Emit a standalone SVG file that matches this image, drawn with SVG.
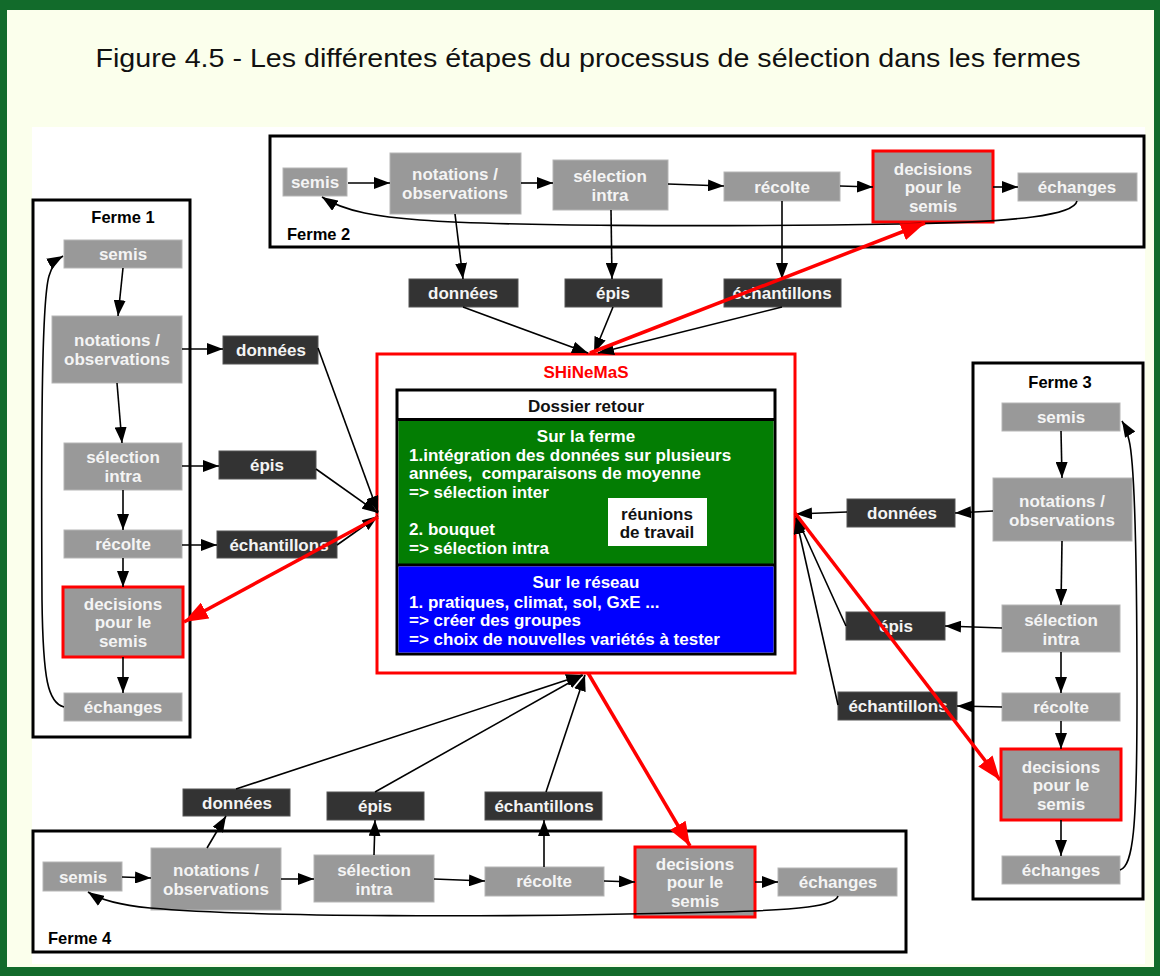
<svg xmlns="http://www.w3.org/2000/svg" width="1160" height="976" viewBox="0 0 1160 976">
<style>
.frame{fill:#fff;stroke:#000;stroke-width:3}
.g rect{fill:#999999;stroke:#b5b5b5;stroke-width:1}
.g rect.red{stroke:#ff0000;stroke-width:3}
.g text{fill:#f4f4f4;font-family:"Liberation Sans",Arial,sans-serif;font-weight:bold;font-size:17px;text-anchor:middle}
.d rect{fill:#333333;stroke:#555;stroke-width:1}
.d text{fill:#f4f4f4;font-family:"Liberation Sans",Arial,sans-serif;font-weight:bold;font-size:17px;text-anchor:middle}
.lbl{fill:#000;font-family:"Liberation Sans",Arial,sans-serif;font-weight:bold;font-size:16.5px}
.c line,.c path{fill:none;stroke:#000;stroke-width:1.6}
.c .r{stroke:#ff0000;stroke-width:3.5}
.w{fill:#fff;font-family:"Liberation Sans",Arial,sans-serif;font-weight:bold;font-size:17px;white-space:pre}
.bk{fill:#111;font-family:"Liberation Sans",Arial,sans-serif;font-weight:bold;font-size:17px;text-anchor:middle}
</style>
<defs>
<marker id="ah" viewBox="0 0 16 12" refX="16" refY="6" markerWidth="16" markerHeight="12" markerUnits="userSpaceOnUse" orient="auto"><path d="M0,0L16,6L0,12z" fill="#000"/></marker>
<marker id="rh" viewBox="0 0 24 18" refX="24" refY="9" markerWidth="24" markerHeight="18" markerUnits="userSpaceOnUse" orient="auto"><path d="M0,0L24,9L0,18z" fill="#ff0000"/></marker>
</defs>
<rect x="0" y="0" width="1160" height="976" fill="#126b2b"/>
<rect x="7" y="10" width="1147" height="957" fill="#fbffec"/>
<rect x="32" y="127" width="1113" height="837" fill="#ffffff"/>
<text x="588" y="67" font-family="Liberation Sans,Arial,sans-serif" font-size="26" fill="#111" text-anchor="middle" textLength="985" lengthAdjust="spacingAndGlyphs">Figure 4.5 - Les différentes étapes du processus de sélection dans les fermes</text>

<g id="ferme2">
<rect class="frame" x="270" y="136" width="874" height="111"/>
<text class="lbl" x="287" y="240">Ferme 2</text>
</g>
<g id="ferme1">
<rect class="frame" x="33" y="200" width="157" height="537"/>
<text class="lbl" x="123" y="223" text-anchor="middle">Ferme 1</text>
</g>
<g id="ferme3">
<rect class="frame" x="973" y="363" width="170" height="536"/>
<text class="lbl" x="1060" y="388" text-anchor="middle">Ferme 3</text>
</g>
<g id="ferme4">
<rect class="frame" x="33" y="831" width="873" height="121"/>
<text class="lbl" x="48" y="944">Ferme 4</text>
</g>

<g id="shinemas">
<rect x="377" y="354" width="418" height="319" fill="#fff" stroke="#ff0000" stroke-width="3"/>
<text x="586" y="378" fill="#ff0000" font-family="Liberation Sans,Arial,sans-serif" font-weight="bold" font-size="17" text-anchor="middle">SHiNeMaS</text>
</g>
<g id="dossier">
<rect x="397" y="390" width="378" height="264" fill="#fff" stroke="#000" stroke-width="3"/>
<text class="bk" x="586" y="412">Dossier retour</text>
<rect x="398.5" y="420" width="375" height="144" fill="#037d03"/>
<line x1="397" y1="419.5" x2="775" y2="419.5" stroke="#000" stroke-width="3"/>
<line x1="397" y1="565" x2="775" y2="565" stroke="#000" stroke-width="3"/>
<rect x="398.5" y="566.5" width="375" height="86" fill="#0000ff"/>
<text class="w" x="586" y="442" text-anchor="middle">Sur la ferme</text>
<text class="w" x="409" y="461">1.intégration des données sur plusieurs</text>
<text class="w" x="409" y="479" xml:space="preserve">années,  comparaisons de moyenne</text>
<text class="w" x="409" y="498">=&gt; sélection inter</text>
<text class="w" x="409" y="535">2. bouquet</text>
<text class="w" x="409" y="554">=&gt; sélection intra</text>
<text class="w" x="586" y="588" text-anchor="middle">Sur le réseau</text>
<text class="w" x="409" y="608">1. pratiques, climat, sol, GxE ...</text>
<text class="w" x="409" y="626">=&gt; créer des groupes</text>
<text class="w" x="409" y="645">=&gt; choix de nouvelles variétés à tester</text>
</g>
<g id="reunions">
<rect x="608" y="498" width="99" height="48" fill="#fff"/>
<text class="bk" x="657" y="520">réunions</text>
<text class="bk" x="657" y="538">de travail</text>
</g>

<!-- Ferme 2 nodes -->
<g id="f2-semis" class="g"><rect x="283" y="168" width="64" height="28"/><text x="315" y="188">semis</text></g>
<g id="f2-notations" class="g"><rect x="390" y="153" width="131" height="61"/><text x="455" y="180">notations /</text><text x="455" y="199">observations</text></g>
<g id="f2-selection" class="g"><rect x="553" y="160" width="115" height="50"/><text x="610" y="182">sélection</text><text x="610" y="201">intra</text></g>
<g id="f2-recolte" class="g"><rect x="724" y="172" width="116" height="29"/><text x="782" y="193">récolte</text></g>
<g id="f2-decisions" class="g"><rect class="red" x="873" y="151" width="120" height="71"/><text x="933" y="175">decisions</text><text x="933" y="193">pour le</text><text x="933" y="212">semis</text></g>
<g id="f2-echanges" class="g"><rect x="1018" y="173" width="119" height="28"/><text x="1077" y="193">échanges</text></g>
<g id="f2-donnees" class="d"><rect x="409" y="279" width="109" height="28"/><text x="463" y="299">données</text></g>
<g id="f2-epis" class="d"><rect x="565" y="279" width="97" height="28"/><text x="613" y="299">épis</text></g>
<g id="f2-echantillons" class="d"><rect x="724" y="279" width="117" height="28"/><text x="782" y="299">échantillons</text></g>

<!-- Ferme 1 nodes -->
<g id="f1-semis" class="g"><rect x="64" y="240" width="118" height="28"/><text x="123" y="260">semis</text></g>
<g id="f1-notations" class="g"><rect x="52" y="316" width="130" height="67"/><text x="117" y="346">notations /</text><text x="117" y="365">observations</text></g>
<g id="f1-selection" class="g"><rect x="64" y="443" width="118" height="47"/><text x="123" y="463">sélection</text><text x="123" y="482">intra</text></g>
<g id="f1-recolte" class="g"><rect x="64" y="530" width="118" height="28"/><text x="123" y="550">récolte</text></g>
<g id="f1-decisions" class="g"><rect class="red" x="63" y="587" width="120" height="70"/><text x="123" y="610">decisions</text><text x="123" y="628">pour le</text><text x="123" y="647">semis</text></g>
<g id="f1-echanges" class="g"><rect x="64" y="693" width="118" height="28"/><text x="123" y="713">échanges</text></g>
<g id="f1-donnees" class="d"><rect x="223" y="336" width="95" height="28"/><text x="271" y="356">données</text></g>
<g id="f1-epis" class="d"><rect x="219" y="451" width="97" height="28"/><text x="267" y="471">épis</text></g>
<g id="f1-echantillons" class="d"><rect x="217" y="531" width="120" height="27"/><text x="279" y="551">échantillons</text></g>

<!-- Ferme 3 nodes -->
<g id="f3-semis" class="g"><rect x="1002" y="403" width="118" height="28"/><text x="1061" y="423">semis</text></g>
<g id="f3-notations" class="g"><rect x="993" y="478" width="139" height="63"/><text x="1062" y="507">notations /</text><text x="1062" y="526">observations</text></g>
<g id="f3-selection" class="g"><rect x="1002" y="605" width="118" height="47"/><text x="1061" y="626">sélection</text><text x="1061" y="645">intra</text></g>
<g id="f3-recolte" class="g"><rect x="1002" y="693" width="118" height="28"/><text x="1061" y="713">récolte</text></g>
<g id="f3-decisions" class="g"><rect class="red" x="1001" y="749" width="120" height="71"/><text x="1061" y="773">decisions</text><text x="1061" y="791">pour le</text><text x="1061" y="810">semis</text></g>
<g id="f3-echanges" class="g"><rect x="1002" y="856" width="118" height="28"/><text x="1061" y="876">échanges</text></g>
<g id="f3-donnees" class="d"><rect x="847" y="499" width="108" height="28"/><text x="902" y="519">données</text></g>
<g id="f3-epis" class="d"><rect x="846" y="612" width="99" height="28"/><text x="896" y="632">épis</text></g>
<g id="f3-echantillons" class="d"><rect x="838" y="692" width="119" height="28"/><text x="898" y="712">échantillons</text></g>

<!-- Ferme 4 nodes -->
<g id="f4-semis" class="g"><rect x="43" y="862" width="79" height="29"/><text x="83" y="883">semis</text></g>
<g id="f4-notations" class="g"><rect x="151" y="848" width="130" height="62"/><text x="216" y="876">notations /</text><text x="216" y="895">observations</text></g>
<g id="f4-selection" class="g"><rect x="314" y="855" width="120" height="47"/><text x="374" y="876">sélection</text><text x="374" y="895">intra</text></g>
<g id="f4-recolte" class="g"><rect x="485" y="867" width="119" height="29"/><text x="544" y="887">récolte</text></g>
<g id="f4-decisions" class="g"><rect class="red" x="635" y="847" width="120" height="70"/><text x="695" y="870">decisions</text><text x="695" y="888">pour le</text><text x="695" y="907">semis</text></g>
<g id="f4-echanges" class="g"><rect x="778" y="868" width="119" height="28"/><text x="838" y="888">échanges</text></g>
<g id="f4-donnees" class="d"><rect x="183" y="789" width="107" height="27"/><text x="237" y="809">données</text></g>
<g id="f4-epis" class="d"><rect x="327" y="792" width="97" height="28"/><text x="375" y="812">épis</text></g>
<g id="f4-echantillons" class="d"><rect x="485" y="792" width="117" height="28"/><text x="544" y="812">échantillons</text></g>

<g id="connectors" class="c">
<!-- Ferme 2 -->
<line x1="348" y1="183" x2="390" y2="183" marker-end="url(#ah)"/>
<line x1="521" y1="183" x2="553" y2="183" marker-end="url(#ah)"/>
<line x1="668" y1="184" x2="724" y2="186" marker-end="url(#ah)"/>
<line x1="840" y1="186" x2="873" y2="187" marker-end="url(#ah)"/>
<line x1="993" y1="187" x2="1018" y2="187" marker-end="url(#ah)"/>
<path d="M1077,201 C1074,215 1020,222 900,224 C700,227 500,226 420,220 C380,217 345,212 322,197" marker-end="url(#ah)"/>
<line x1="455" y1="214" x2="463" y2="279" marker-end="url(#ah)"/>
<line x1="611" y1="210" x2="612" y2="279" marker-end="url(#ah)"/>
<line x1="782" y1="201" x2="782" y2="279" marker-end="url(#ah)"/>
<line x1="463" y1="307" x2="588" y2="353" marker-end="url(#ah)"/>
<line x1="613" y1="307" x2="594" y2="353" marker-end="url(#ah)"/>
<line x1="782" y1="307" x2="598" y2="353" marker-end="url(#ah)"/>
<!-- Ferme 1 -->
<line x1="123" y1="268" x2="118" y2="316" marker-end="url(#ah)"/>
<line x1="117" y1="383" x2="122" y2="443" marker-end="url(#ah)"/>
<line x1="123" y1="490" x2="123" y2="530" marker-end="url(#ah)"/>
<line x1="123" y1="558" x2="123" y2="587" marker-end="url(#ah)"/>
<line x1="123" y1="657" x2="123" y2="693" marker-end="url(#ah)"/>
<path d="M64,707 C48,703 43,680 42,600 C41,420 42,300 49,276 C52,266 56,260 63,256" marker-end="url(#ah)"/>
<line x1="182" y1="349" x2="223" y2="349" marker-end="url(#ah)"/>
<line x1="182" y1="466" x2="219" y2="466" marker-end="url(#ah)"/>
<line x1="182" y1="545" x2="217" y2="545" marker-end="url(#ah)"/>
<line x1="318" y1="348" x2="378" y2="512" marker-end="url(#ah)"/>
<line x1="316" y1="469" x2="378" y2="513" marker-end="url(#ah)"/>
<line x1="337" y1="545" x2="378" y2="516" marker-end="url(#ah)"/>
<!-- Ferme 3 -->
<line x1="1061" y1="431" x2="1062" y2="478" marker-end="url(#ah)"/>
<line x1="1062" y1="541" x2="1061" y2="605" marker-end="url(#ah)"/>
<line x1="1061" y1="652" x2="1061" y2="693" marker-end="url(#ah)"/>
<line x1="1061" y1="721" x2="1061" y2="749" marker-end="url(#ah)"/>
<line x1="1061" y1="820" x2="1061" y2="856" marker-end="url(#ah)"/>
<path d="M1120,870 C1133,866 1137,830 1137,700 C1137,530 1134,460 1129,440 C1127,432 1125,426 1122,421" marker-end="url(#ah)"/>
<line x1="993" y1="511" x2="955" y2="513" marker-end="url(#ah)"/>
<line x1="1002" y1="628" x2="945" y2="626" marker-end="url(#ah)"/>
<line x1="1002" y1="707" x2="957" y2="706" marker-end="url(#ah)"/>
<line x1="847" y1="512" x2="796" y2="514" marker-end="url(#ah)"/>
<line x1="846" y1="626" x2="796" y2="516" marker-end="url(#ah)"/>
<line x1="838" y1="705" x2="796" y2="518" marker-end="url(#ah)"/>
<!-- Ferme 4 -->
<line x1="122" y1="877" x2="151" y2="878" marker-end="url(#ah)"/>
<line x1="281" y1="879" x2="314" y2="879" marker-end="url(#ah)"/>
<line x1="434" y1="879" x2="485" y2="881" marker-end="url(#ah)"/>
<line x1="604" y1="881" x2="635" y2="882" marker-end="url(#ah)"/>
<line x1="755" y1="882" x2="778" y2="882" marker-end="url(#ah)"/>
<path d="M838,896 C835,906 800,910 720,912 C500,918 250,917 150,908 C120,905 100,900 88,892" marker-end="url(#ah)"/>
<line x1="207" y1="848" x2="226" y2="816" marker-end="url(#ah)"/>
<line x1="374" y1="855" x2="375" y2="820" marker-end="url(#ah)"/>
<line x1="544" y1="867" x2="544" y2="820" marker-end="url(#ah)"/>
<line x1="236" y1="789" x2="582" y2="675" marker-end="url(#ah)"/>
<line x1="375" y1="792" x2="583" y2="675" marker-end="url(#ah)"/>
<line x1="546" y1="792" x2="585" y2="675" marker-end="url(#ah)"/>
<!-- red -->
<line class="r" x1="590" y1="353" x2="925" y2="223" marker-end="url(#rh)"/>
<line class="r" x1="378" y1="517" x2="184" y2="622" marker-end="url(#rh)"/>
<line class="r" x1="795" y1="513" x2="1000" y2="780" marker-end="url(#rh)"/>
<line class="r" x1="588" y1="673" x2="690" y2="846" marker-end="url(#rh)"/>
</g>
</svg>
